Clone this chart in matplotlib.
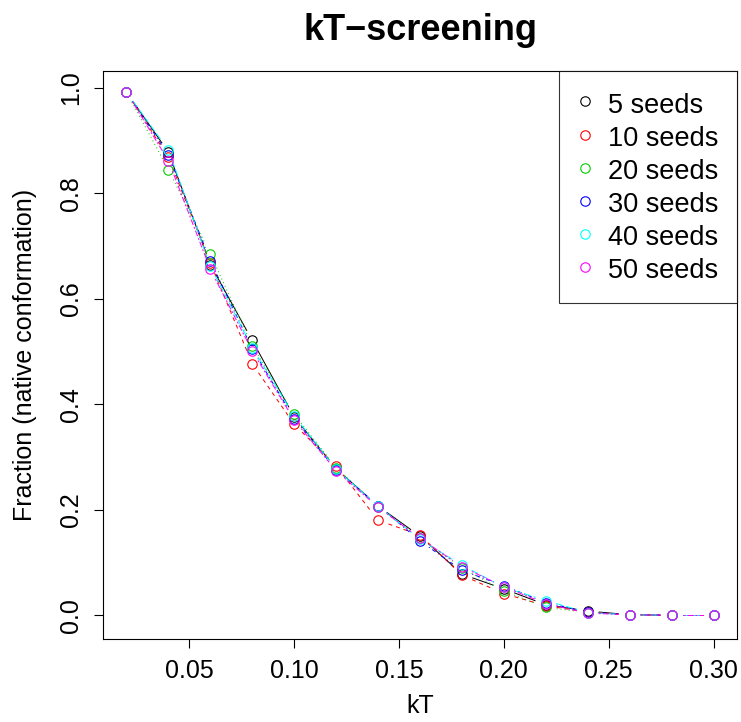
import numpy as np
import matplotlib
matplotlib.use("Agg")
from matplotlib import pyplot as plt
from matplotlib.collections import LineCollection
from matplotlib.lines import Line2D

plt.rcParams['font.family'] = ['Liberation Sans', 'DejaVu Sans']

###--------------------------###
kT = [0.02, 0.04, 0.06, 0.08, 0.10, 0.12, 0.14, 0.16, 0.18, 0.20, 0.22, 0.24, 0.26, 0.28, 0.30]
labels = ['5 seeds', '10 seeds', '20 seeds', '30 seeds', '40 seeds', '50 seeds']
frac_5 = [0.992, 0.878, 0.665, 0.521, 0.376, 0.278, 0.207, 0.150, 0.078, 0.050, 0.020, 0.008, 0.001, 0.0, 0.0]
frac_10 = [0.992, 0.868, 0.668, 0.477, 0.362, 0.283, 0.180, 0.152, 0.076, 0.041, 0.018, 0.006, 0.001, 0.0, 0.0]
frac_20 = [0.992, 0.845, 0.685, 0.511, 0.381, 0.280, 0.206, 0.146, 0.090, 0.046, 0.015, 0.005, 0.001, 0.0, 0.0]
frac_30 = [0.992, 0.873, 0.672, 0.505, 0.373, 0.276, 0.208, 0.141, 0.085, 0.056, 0.024, 0.006, 0.001, 0.0, 0.0]
frac_40 = [0.992, 0.882, 0.662, 0.507, 0.378, 0.277, 0.207, 0.144, 0.095, 0.053, 0.028, 0.005, 0.001, 0.0, 0.0]
frac_50 = [0.992, 0.862, 0.656, 0.501, 0.370, 0.274, 0.205, 0.146, 0.092, 0.054, 0.022, 0.004, 0.001, 0.0, 0.0]
series = [frac_5, frac_10, frac_20, frac_30, frac_40, frac_50]
### -------------- ###

colors = ['black', '#FF0000', '#00CD00', '#0000FF', '#00FFFF', '#FF00FF']
# R lty 1..6 (in units of line width)
dashes = [None, (4, 4), (1, 3), (1, 3, 4, 3), (7, 3), (2, 2, 6, 2)]

fig = plt.figure(figsize=(7.41, 7.22), dpi=100)
ax = fig.add_axes([103/741, 1 - 639/722, (737-103)/741, (639-71)/722])
ax.set_xlim(0.0088, 0.3112)
ax.set_ylim(-0.045, 1.032)

lw = 0.72
gap = 11  # px gap between line ends and point centres (R type="b")

def gapped(ax, x, y, color, dash):
    trans = ax.transData
    pts = trans.transform(np.column_stack([x, y]))
    inv = trans.inverted()
    segs = []
    for p0, p1 in zip(pts[:-1], pts[1:]):
        d = p1 - p0
        L = np.hypot(*d)
        if L <= 2 * gap:
            continue
        u = d / L
        segs.append(inv.transform(np.array([p0 + u * gap, p1 - u * gap])))
    ls = 'solid' if dash is None else (0, dash)
    lc = LineCollection(segs, colors=color, linewidths=lw, linestyles=ls, capstyle='butt')
    ax.add_collection(lc)

for y, c, d in zip(series, colors, dashes):
    gapped(ax, kT, y, c, d)
    ax.plot(kT, y, linestyle='none', marker='o', markersize=6.8,
            markerfacecolor='none', markeredgecolor=c, markeredgewidth=0.8)

ax.set_xticks([0.05, 0.10, 0.15, 0.20, 0.25, 0.30])
ax.set_xticklabels(['0.05', '0.10', '0.15', '0.20', '0.25', '0.30'])
ax.set_yticks([0.0, 0.2, 0.4, 0.6, 0.8, 1.0])
ax.set_yticklabels(['0.0', '0.2', '0.4', '0.6', '0.8', '1.0'], rotation=90, va='center')
ax.tick_params(direction='out', length=6.5, width=0.8, labelsize=18, pad=8)
for s in ax.spines.values():
    s.set_linewidth(0.8)

ax.set_xlabel('kT', fontsize=18, labelpad=8)
ax.set_ylabel('Fraction (native conformation)', fontsize=18, labelpad=16)
ax.set_title('kT\u2212screening', fontsize=26, fontweight='bold', pad=22)

handles = [Line2D([], [], linestyle='none', marker='o', markersize=6.8,
                  markerfacecolor='none', markeredgecolor=c, markeredgewidth=0.8)
           for c in colors]
leg = ax.legend(handles, labels, loc='upper right', borderaxespad=0, fontsize=19.5,
                frameon=True, fancybox=False, handlelength=0.5, handleheight=1.2,
                handletextpad=0.6, labelspacing=0.15, borderpad=0.7)
leg.get_frame().set_edgecolor('black')
leg.get_frame().set_linewidth(0.8)

fig.savefig('out.png', dpi=100)
